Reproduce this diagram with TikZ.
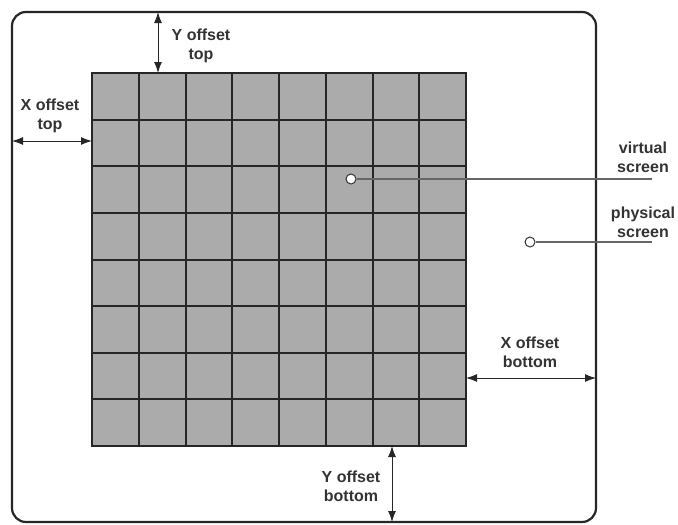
\documentclass[tikz,border=0pt]{standalone}
\usepackage{fontspec}
\setmainfont{Liberation Sans}
\usetikzlibrary{arrows.meta}
\begin{document}
\begin{tikzpicture}[x=1pt,y=-1pt,
  frame/.style={draw=black!85,line width=2.2pt,rounded corners=14pt},
  cellgrid/.style={draw=black!85,line width=2pt},
  dim/.style={draw=black!85,line width=1pt,{Latex[length=11pt,width=8pt]}-{Latex[length=11pt,width=8pt]}},
  lbl/.style={font=\bfseries\fontsize{16}{19}\selectfont,text=black!80,align=center,inner sep=1pt},
  pin/.style={circle,draw=black!80,fill=white,line width=1pt,minimum size=10pt,inner sep=0pt},
  leader/.style={draw=black!60,line width=1.2pt}]
\useasboundingbox (0,0) rectangle (678,525);
% physical screen outline
\draw[frame] (12,12) rectangle (596,522);
% virtual screen grid
\fill[black!33] (92,73) rectangle (466,446);
\foreach \i in {1,...,7} {
  \draw[cellgrid] ({92+\i*46.75},73) -- ({92+\i*46.75},446);
  \draw[cellgrid] (92,{73+\i*46.625}) -- (466,{73+\i*46.625});
}
\draw[cellgrid] (92,73) rectangle (466,446);
% reference points on the edges
\coordinate (ytA) at (158,12);  \coordinate (ytB) at (158,73);
\coordinate (xtA) at (12,141);  \coordinate (xtB) at (92,141);
\coordinate (xbA) at (466,378); \coordinate (xbB) at (596,378);
\coordinate (ybA) at (392,446); \coordinate (ybB) at (392,522);
\draw[dim] (ytA) -- (ytB);
\draw[dim] (xtA) -- (xtB);
\draw[dim] (xbA) -- (xbB);
\draw[dim] (ybA) -- (ybB);
% dimension labels
\node[lbl] (lyt) at (201,46) {Y offset\\top};
\node[lbl] (lxt) at (50,116) {X offset\\top};
\node[lbl] (lxb) at (530,352) {X offset\\bottom};
\node[lbl] (lyb) at (351,486) {Y offset\\bottom};
% callouts
\node[pin] (pv) at (351,179) {};
\node[pin] (pp) at (530,242) {};
\coordinate (ev) at (652,179);
\coordinate (ep) at (652,242);
\draw[leader] (pv) -- (ev);
\draw[leader] (pp) -- (ep);
\node[lbl,anchor=south] (tv) at (643,174) {virtual\\screen};
\node[lbl,anchor=south] (tp) at (643,239) {physical\\screen};
\end{tikzpicture}
\end{document}
